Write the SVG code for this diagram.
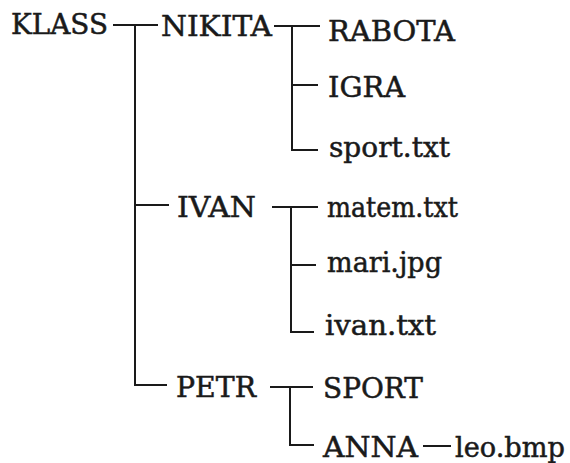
<svg xmlns="http://www.w3.org/2000/svg" width="570" height="463" viewBox="0 0 570 463">
  <style>
    .lbl { font-family: "DejaVu Serif", "Liberation Serif", serif; font-size: 27px; fill: #1a1a1a; stroke: #1a1a1a; stroke-width: 0.5px; }
    .ln { stroke: #1a1a1a; stroke-width: 2; fill: none; stroke-linecap: square; }
  </style>
  <rect width="570" height="463" fill="#ffffff"/>

  <!-- tree connectors -->
  <g id="connectors" class="ln">
    <!-- KLASS -->
    <path d="M114 25 H157 M135 25 V385 M135 205 H168 M135 385 H166"/>
    <!-- NIKITA -->
    <path d="M275 26 H319 M292 26 V150 M292 85 H317 M292 150 H317"/>
    <!-- IVAN -->
    <path d="M273 207 H317 M291 207 V332 M291 265 H315 M291 332 H313"/>
    <!-- PETR -->
    <path d="M271 387 H312 M290 387 V445 H313"/>
    <!-- ANNA -->
    <path d="M424 446 H450"/>
  </g>

  <g id="klass"><text class="lbl" x="11" y="34" textLength="97" lengthAdjust="spacingAndGlyphs">KLASS</text></g>
  <g id="nikita"><text class="lbl" x="161" y="36" textLength="111" lengthAdjust="spacingAndGlyphs">NIKITA</text></g>
  <g id="rabota"><text class="lbl" x="328" y="41" textLength="127" lengthAdjust="spacingAndGlyphs">RABOTA</text></g>
  <g id="igra"><text class="lbl" x="328" y="97" textLength="77" lengthAdjust="spacingAndGlyphs">IGRA</text></g>
  <g id="sport-txt"><text class="lbl" x="329" y="157" textLength="121" lengthAdjust="spacingAndGlyphs">sport.txt</text></g>
  <g id="ivan"><text class="lbl" x="177" y="217" textLength="79" lengthAdjust="spacingAndGlyphs">IVAN</text></g>
  <g id="matem-txt"><text class="lbl" x="327" y="217" textLength="131" lengthAdjust="spacingAndGlyphs">matem.txt</text></g>
  <g id="mari-jpg"><text class="lbl" x="327" y="272" textLength="115" lengthAdjust="spacingAndGlyphs">mari.jpg</text></g>
  <g id="ivan-txt"><text class="lbl" x="325" y="335" textLength="111" lengthAdjust="spacingAndGlyphs">ivan.txt</text></g>
  <g id="petr"><text class="lbl" x="176" y="397" textLength="80" lengthAdjust="spacingAndGlyphs">PETR</text></g>
  <g id="sport"><text class="lbl" x="323" y="398" textLength="100" lengthAdjust="spacingAndGlyphs">SPORT</text></g>
  <g id="anna"><text class="lbl" x="323" y="457" textLength="95" lengthAdjust="spacingAndGlyphs">ANNA</text></g>
  <g id="leo-bmp"><text class="lbl" x="455" y="457" textLength="110" lengthAdjust="spacingAndGlyphs">leo.bmp</text></g>
</svg>
